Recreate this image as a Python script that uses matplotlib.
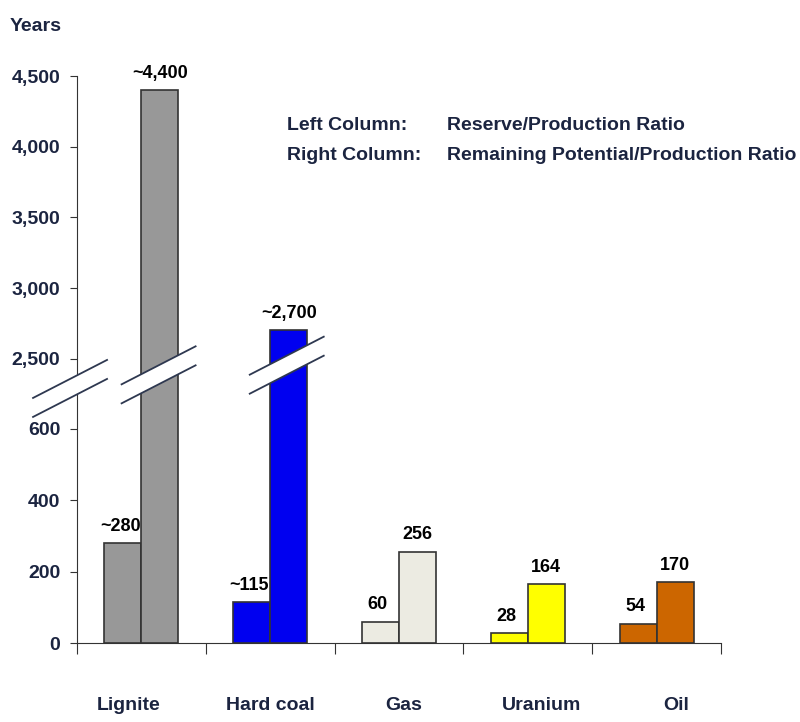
import numpy as np
import matplotlib
matplotlib.use("Agg")
import matplotlib.pyplot as plt
import matplotlib.transforms as mtransforms
from matplotlib.patches import Polygon
from matplotlib.ticker import FixedLocator, FuncFormatter

# Static range of energy resources (years)
fuels = ["Lignite", "Hard coal", "Gas", "Uranium", "Oil"]
reserve_ratio = [280, 115, 60, 28, 54]
potential_ratio = [4400, 2700, 256, 164, 170]
reserve_labels = ["~280", "~115", "60", "28", "54"]
potential_labels = ["~4,400", "~2,700", "256", "164", "170"]
colors = ["#989898", "#0000f0", "#ecebe2", "#ffff00", "#cc6600"]
yticks = [0, 200, 400, 600, 2500, 3000, 3500, 4000, 4500]

navy = "#1b2440"
plt.rcParams["font.family"] = ["Liberation Sans", "DejaVu Sans"]
plt.rcParams["font.weight"] = "bold"


# broken y axis: 0-700 drawn at full scale, 2300-4500 compressed
def fwd(y):
    y = np.asarray(y, dtype=float)
    return np.where(y <= 700, y * 250 / 700,
                    np.where(y <= 2300, 250 + (y - 700) * 6 / 1600,
                             256 + (y - 2300) * 311 / 2200))


def inv(p):
    p = np.asarray(p, dtype=float)
    return np.where(p <= 250, p * 700 / 250,
                    np.where(p <= 256, 700 + (p - 250) * 1600 / 6,
                             2300 + (p - 256) * 2200 / 311))


fig = plt.figure(figsize=(8, 7.22), dpi=100)
ax = fig.add_axes([0.09625, 0.1094, 0.805, 0.7853])
ax.set_yscale("function", functions=(fwd, inv))
ax.set_ylim(0, 4500)
ax.set_xlim(0, len(fuels))

w = 0.287
x = np.arange(len(fuels)) + 0.5
ax.bar(x - w / 2, reserve_ratio, w, color=colors, edgecolor="#333333", linewidth=1.2, zorder=3)
ax.bar(x + w / 2, potential_ratio, w, color=colors, edgecolor="#333333", linewidth=1.2, zorder=3)

for xi, v, s in zip(x - w / 2, reserve_ratio, reserve_labels):
    ax.annotate(s, (xi, v), xytext=(-2, 6), textcoords="offset points",
                ha="center", va="bottom", fontsize=13, color="black", annotation_clip=False)
for xi, v, s in zip(x + w / 2, potential_ratio, potential_labels):
    ax.annotate(s, (xi, v), xytext=(0, 6), textcoords="offset points",
                ha="center", va="bottom", fontsize=13, color="black", annotation_clip=False)

# axes styling
for side in ["top", "right"]:
    ax.spines[side].set_visible(False)
ax.spines["left"].set_color("#333333")
ax.spines["bottom"].set_color("#333333")
ax.yaxis.set_major_locator(FixedLocator(yticks))
ax.yaxis.set_major_formatter(FuncFormatter(lambda v, _: f"{v:,.0f}"))
ax.yaxis.set_minor_locator(FixedLocator([]))
ax.tick_params(axis="y", direction="out", length=5, color="#333333",
               labelsize=14, labelcolor=navy, pad=7)
ax.set_xticks(np.arange(len(fuels) + 1))
ax.set_xticklabels([])
ax.tick_params(axis="x", direction="out", length=8, color="#333333")

# category names below the axis, spread a little wider than the groups
xtrans = mtransforms.blended_transform_factory(ax.transData, ax.transAxes)
label_nudge = [-0.10, 0.0, 0.04, 0.11, 0.155]
for xi, dx, name in zip(x, label_nudge, fuels):
    ax.text(xi + dx, -0.111, name, transform=xtrans, ha="center", va="center",
            fontsize=14, color=navy)

ax.text(-0.104, 1.087, "Years", transform=ax.transAxes, ha="left", va="center",
        fontsize=14, color=navy)

# column legend
ax.text(0.326, 0.912, "Left Column:", transform=ax.transAxes, fontsize=14, color=navy, va="center")
ax.text(0.5745, 0.912, "Reserve/Production Ratio", transform=ax.transAxes, fontsize=14, color=navy, va="center")
ax.text(0.326, 0.859, "Right Column:", transform=ax.transAxes, fontsize=14, color=navy, va="center")
ax.text(0.5745, 0.859, "Remaining Potential/Production Ratio", transform=ax.transAxes, fontsize=14, color=navy, va="center")


# break marks: white slanted band bounded by two lines
def draw_break(xd, yf):
    trans = fig.dpi_scale_trans + mtransforms.ScaledTranslation(xd, yf, xtrans)
    hw, rise, gap = 0.37, 0.19, 0.095
    top = [(-hw, -rise + gap), (hw, rise + gap)]
    bot = [(-hw, -rise - gap), (hw, rise - gap)]
    band = Polygon(top + bot[::-1], closed=True, facecolor="white", edgecolor="none",
                   transform=trans, clip_on=False, zorder=6)
    ax.add_patch(band)
    for seg in (top, bot):
        xs, ys = zip(*seg)
        ax.plot(xs, ys, color="#2e3850", lw=1.3, transform=trans, clip_on=False, zorder=7)


draw_break(-0.054, 0.449)
draw_break(x[0] + w / 2 - 0.01, 0.473)
draw_break(x[1] + w / 2 - 0.015, 0.490)

fig.savefig("out.png", dpi=100)
